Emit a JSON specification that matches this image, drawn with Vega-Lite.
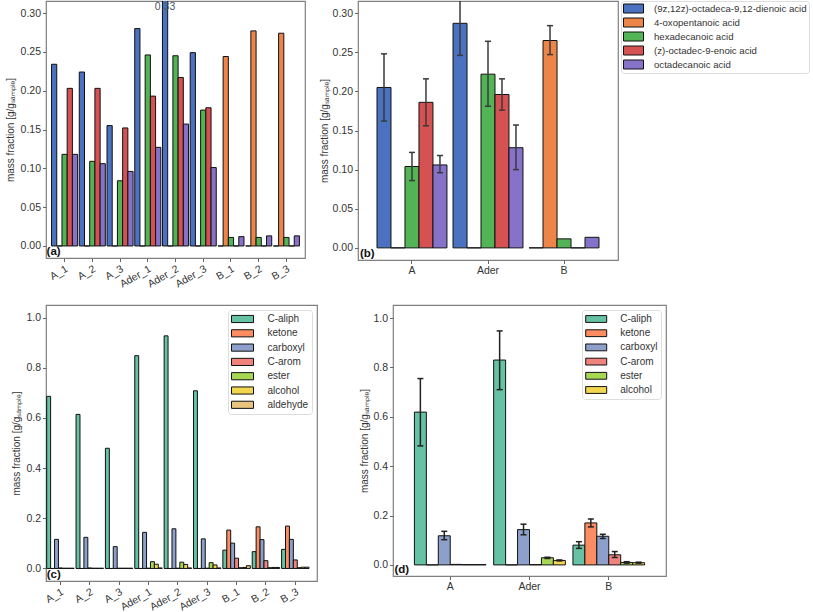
{
  "$schema": "https://vega.github.io/schema/vega-lite/v6.json",
  "padding": {"left": 4, "top": -1, "right": 0, "bottom": 0},
  "background": "white",
  "config": {
    "font": "Liberation Sans",
    "view": {"stroke": "#808080", "strokeWidth": 1.2},
    "axis": {
      "domain": false, "grid": false,
      "labelFont": "Liberation Sans", "labelFontSize": 10.5, "labelColor": "#333333",
      "titleFont": "Liberation Sans", "titleFontSize": 10, "titleFontWeight": "normal", "titleColor": "#333333",
      "tickColor": "#666666", "tickSize": 3.5, "labelPadding": 2, "titlePadding": 3
    },
    "legend": {
      "labelFont": "Liberation Sans", "labelFontSize": 10, "labelColor": "#333333", "labelLimit": 260,
      "strokeColor": "#dddddd", "fillColor": "white", "cornerRadius": 3, "padding": 2,
      "symbolStrokeColor": "#111111", "symbolStrokeWidth": 1, "symbolOpacity": 1,
      "symbolOffset": 5, "labelOffset": 18, "title": null
    }
  },
  "datasets": {
    "fa": [
      {"s": "A_1", "c": "(9z,12z)-octadeca-9,12-dienoic acid", "v": 0.234},
      {"s": "A_1", "c": "4-oxopentanoic acid", "v": 0},
      {"s": "A_1", "c": "hexadecanoic acid", "v": 0.118},
      {"s": "A_1", "c": "(z)-octadec-9-enoic acid", "v": 0.203},
      {"s": "A_1", "c": "octadecanoic acid", "v": 0.118},
      {"s": "A_2", "c": "(9z,12z)-octadeca-9,12-dienoic acid", "v": 0.224},
      {"s": "A_2", "c": "4-oxopentanoic acid", "v": 0},
      {"s": "A_2", "c": "hexadecanoic acid", "v": 0.109},
      {"s": "A_2", "c": "(z)-octadec-9-enoic acid", "v": 0.203},
      {"s": "A_2", "c": "octadecanoic acid", "v": 0.106},
      {"s": "A_3", "c": "(9z,12z)-octadeca-9,12-dienoic acid", "v": 0.155},
      {"s": "A_3", "c": "4-oxopentanoic acid", "v": 0},
      {"s": "A_3", "c": "hexadecanoic acid", "v": 0.084},
      {"s": "A_3", "c": "(z)-octadec-9-enoic acid", "v": 0.152},
      {"s": "A_3", "c": "octadecanoic acid", "v": 0.096},
      {"s": "Ader_1", "c": "(9z,12z)-octadeca-9,12-dienoic acid", "v": 0.280},
      {"s": "Ader_1", "c": "4-oxopentanoic acid", "v": 0},
      {"s": "Ader_1", "c": "hexadecanoic acid", "v": 0.246},
      {"s": "Ader_1", "c": "(z)-octadec-9-enoic acid", "v": 0.193},
      {"s": "Ader_1", "c": "octadecanoic acid", "v": 0.127},
      {"s": "Ader_2", "c": "(9z,12z)-octadeca-9,12-dienoic acid", "v": 0.33},
      {"s": "Ader_2", "c": "4-oxopentanoic acid", "v": 0},
      {"s": "Ader_2", "c": "hexadecanoic acid", "v": 0.245},
      {"s": "Ader_2", "c": "(z)-octadec-9-enoic acid", "v": 0.217},
      {"s": "Ader_2", "c": "octadecanoic acid", "v": 0.157},
      {"s": "Ader_3", "c": "(9z,12z)-octadeca-9,12-dienoic acid", "v": 0.249},
      {"s": "Ader_3", "c": "4-oxopentanoic acid", "v": 0},
      {"s": "Ader_3", "c": "hexadecanoic acid", "v": 0.175},
      {"s": "Ader_3", "c": "(z)-octadec-9-enoic acid", "v": 0.178},
      {"s": "Ader_3", "c": "octadecanoic acid", "v": 0.101},
      {"s": "B_1", "c": "(9z,12z)-octadeca-9,12-dienoic acid", "v": 0},
      {"s": "B_1", "c": "4-oxopentanoic acid", "v": 0.244},
      {"s": "B_1", "c": "hexadecanoic acid", "v": 0.011},
      {"s": "B_1", "c": "(z)-octadec-9-enoic acid", "v": 0},
      {"s": "B_1", "c": "octadecanoic acid", "v": 0.012},
      {"s": "B_2", "c": "(9z,12z)-octadeca-9,12-dienoic acid", "v": 0},
      {"s": "B_2", "c": "4-oxopentanoic acid", "v": 0.277},
      {"s": "B_2", "c": "hexadecanoic acid", "v": 0.011},
      {"s": "B_2", "c": "(z)-octadec-9-enoic acid", "v": 0},
      {"s": "B_2", "c": "octadecanoic acid", "v": 0.013},
      {"s": "B_3", "c": "(9z,12z)-octadeca-9,12-dienoic acid", "v": 0},
      {"s": "B_3", "c": "4-oxopentanoic acid", "v": 0.274},
      {"s": "B_3", "c": "hexadecanoic acid", "v": 0.011},
      {"s": "B_3", "c": "(z)-octadec-9-enoic acid", "v": 0},
      {"s": "B_3", "c": "octadecanoic acid", "v": 0.013}
    ],
    "fam": [
      {"g": "A", "c": "(9z,12z)-octadeca-9,12-dienoic acid", "v": 0.205, "lo": 0.162, "hi": 0.248},
      {"g": "A", "c": "4-oxopentanoic acid", "v": 0, "lo": null, "hi": null},
      {"g": "A", "c": "hexadecanoic acid", "v": 0.104, "lo": 0.086, "hi": 0.122},
      {"g": "A", "c": "(z)-octadec-9-enoic acid", "v": 0.186, "lo": 0.156, "hi": 0.216},
      {"g": "A", "c": "octadecanoic acid", "v": 0.106, "lo": 0.096, "hi": 0.118},
      {"g": "Ader", "c": "(9z,12z)-octadeca-9,12-dienoic acid", "v": 0.287, "lo": 0.246, "hi": 0.328},
      {"g": "Ader", "c": "4-oxopentanoic acid", "v": 0, "lo": null, "hi": null},
      {"g": "Ader", "c": "hexadecanoic acid", "v": 0.222, "lo": 0.181, "hi": 0.264},
      {"g": "Ader", "c": "(z)-octadec-9-enoic acid", "v": 0.196, "lo": 0.176, "hi": 0.216},
      {"g": "Ader", "c": "octadecanoic acid", "v": 0.128, "lo": 0.100, "hi": 0.157},
      {"g": "B", "c": "(9z,12z)-octadeca-9,12-dienoic acid", "v": 0, "lo": null, "hi": null},
      {"g": "B", "c": "4-oxopentanoic acid", "v": 0.265, "lo": 0.247, "hi": 0.284},
      {"g": "B", "c": "hexadecanoic acid", "v": 0.0115, "lo": null, "hi": null},
      {"g": "B", "c": "(z)-octadec-9-enoic acid", "v": 0, "lo": null, "hi": null},
      {"g": "B", "c": "octadecanoic acid", "v": 0.0135, "lo": null, "hi": null}
    ],
    "fg": [
      {"s": "A_1", "c": "C-aliph", "v": 0.686}, {"s": "A_1", "c": "ketone", "v": 0}, {"s": "A_1", "c": "carboxyl", "v": 0.116}, {"s": "A_1", "c": "C-arom", "v": 0.002}, {"s": "A_1", "c": "ester", "v": 0.001}, {"s": "A_1", "c": "alcohol", "v": 0.001}, {"s": "A_1", "c": "aldehyde", "v": 0.001},
      {"s": "A_2", "c": "C-aliph", "v": 0.614}, {"s": "A_2", "c": "ketone", "v": 0}, {"s": "A_2", "c": "carboxyl", "v": 0.124}, {"s": "A_2", "c": "C-arom", "v": 0.002}, {"s": "A_2", "c": "ester", "v": 0.001}, {"s": "A_2", "c": "alcohol", "v": 0.001}, {"s": "A_2", "c": "aldehyde", "v": 0.001},
      {"s": "A_3", "c": "C-aliph", "v": 0.479}, {"s": "A_3", "c": "ketone", "v": 0}, {"s": "A_3", "c": "carboxyl", "v": 0.087}, {"s": "A_3", "c": "C-arom", "v": 0.001}, {"s": "A_3", "c": "ester", "v": 0.001}, {"s": "A_3", "c": "alcohol", "v": 0.001}, {"s": "A_3", "c": "aldehyde", "v": 0.001},
      {"s": "Ader_1", "c": "C-aliph", "v": 0.848}, {"s": "Ader_1", "c": "ketone", "v": 0}, {"s": "Ader_1", "c": "carboxyl", "v": 0.144}, {"s": "Ader_1", "c": "C-arom", "v": 0.001}, {"s": "Ader_1", "c": "ester", "v": 0.027}, {"s": "Ader_1", "c": "alcohol", "v": 0.017}, {"s": "Ader_1", "c": "aldehyde", "v": 0.002},
      {"s": "Ader_2", "c": "C-aliph", "v": 0.927}, {"s": "Ader_2", "c": "ketone", "v": 0}, {"s": "Ader_2", "c": "carboxyl", "v": 0.158}, {"s": "Ader_2", "c": "C-arom", "v": 0.001}, {"s": "Ader_2", "c": "ester", "v": 0.025}, {"s": "Ader_2", "c": "alcohol", "v": 0.016}, {"s": "Ader_2", "c": "aldehyde", "v": 0.002},
      {"s": "Ader_3", "c": "C-aliph", "v": 0.708}, {"s": "Ader_3", "c": "ketone", "v": 0}, {"s": "Ader_3", "c": "carboxyl", "v": 0.118}, {"s": "Ader_3", "c": "C-arom", "v": 0.001}, {"s": "Ader_3", "c": "ester", "v": 0.023}, {"s": "Ader_3", "c": "alcohol", "v": 0.014}, {"s": "Ader_3", "c": "aldehyde", "v": 0.002},
      {"s": "B_1", "c": "C-aliph", "v": 0.073}, {"s": "B_1", "c": "ketone", "v": 0.153}, {"s": "B_1", "c": "carboxyl", "v": 0.101}, {"s": "B_1", "c": "C-arom", "v": 0.041}, {"s": "B_1", "c": "ester", "v": 0.003}, {"s": "B_1", "c": "alcohol", "v": 0.004}, {"s": "B_1", "c": "aldehyde", "v": 0.011},
      {"s": "B_2", "c": "C-aliph", "v": 0.067}, {"s": "B_2", "c": "ketone", "v": 0.166}, {"s": "B_2", "c": "carboxyl", "v": 0.115}, {"s": "B_2", "c": "C-arom", "v": 0.031}, {"s": "B_2", "c": "ester", "v": 0.003}, {"s": "B_2", "c": "alcohol", "v": 0.004}, {"s": "B_2", "c": "aldehyde", "v": 0.004},
      {"s": "B_3", "c": "C-aliph", "v": 0.076}, {"s": "B_3", "c": "ketone", "v": 0.169}, {"s": "B_3", "c": "carboxyl", "v": 0.116}, {"s": "B_3", "c": "C-arom", "v": 0.034}, {"s": "B_3", "c": "ester", "v": 0.003}, {"s": "B_3", "c": "alcohol", "v": 0.005}, {"s": "B_3", "c": "aldehyde", "v": 0.005}
    ],
    "fgm": [
      {"g": "A", "c": "C-aliph", "v": 0.619, "lo": 0.482, "hi": 0.755},
      {"g": "A", "c": "ketone", "v": 0, "lo": null, "hi": null},
      {"g": "A", "c": "carboxyl", "v": 0.118, "lo": 0.102, "hi": 0.136},
      {"g": "A", "c": "C-arom", "v": 0.002, "lo": null, "hi": null},
      {"g": "A", "c": "ester", "v": 0.001, "lo": null, "hi": null},
      {"g": "A", "c": "alcohol", "v": 0.001, "lo": null, "hi": null},
      {"g": "Ader", "c": "C-aliph", "v": 0.830, "lo": 0.710, "hi": 0.948},
      {"g": "Ader", "c": "ketone", "v": 0, "lo": null, "hi": null},
      {"g": "Ader", "c": "carboxyl", "v": 0.143, "lo": 0.122, "hi": 0.165},
      {"g": "Ader", "c": "C-arom", "v": 0.001, "lo": null, "hi": null},
      {"g": "Ader", "c": "ester", "v": 0.029, "lo": 0.026, "hi": 0.031},
      {"g": "Ader", "c": "alcohol", "v": 0.018, "lo": 0.016, "hi": 0.020},
      {"g": "B", "c": "C-aliph", "v": 0.080, "lo": 0.067, "hi": 0.094},
      {"g": "B", "c": "ketone", "v": 0.170, "lo": 0.154, "hi": 0.186},
      {"g": "B", "c": "carboxyl", "v": 0.116, "lo": 0.107, "hi": 0.124},
      {"g": "B", "c": "C-arom", "v": 0.041, "lo": 0.030, "hi": 0.054},
      {"g": "B", "c": "ester", "v": 0.010, "lo": 0.007, "hi": 0.013},
      {"g": "B", "c": "alcohol", "v": 0.009, "lo": 0.007, "hi": 0.011}
    ]
  },
  "resolve": {"scale": {"color": "independent", "x": "independent", "y": "independent", "xOffset": "independent"}, "legend": {"color": "independent"}},
  "spacing": 13,
  "vconcat": [
    {
      "hconcat": [
        {
          "width": 259, "height": 257,
          "layer": [
            {
              "data": {"name": "fa"},
              "mark": {"type": "bar", "stroke": "#111111", "strokeWidth": 1, "clip": true},
              "encoding": {
                "x": {"field": "s", "type": "nominal", "sort": ["A_1","A_2","A_3","Ader_1","Ader_2","Ader_3","B_1","B_2","B_3"],
                      "scale": {"paddingInner": 0.06, "paddingOuter": 0.2},
                      "axis": {"title": null, "labelAngle": -30, "labelAlign": "right", "labelBaseline": "top"}},
                "xOffset": {"field": "c", "type": "nominal", "sort": ["(9z,12z)-octadeca-9,12-dienoic acid","4-oxopentanoic acid","hexadecanoic acid","(z)-octadec-9-enoic acid","octadecanoic acid"],
                            "scale": {"paddingInner": 0, "paddingOuter": 0}},
                "y": {"field": "v", "type": "quantitative", "scale": {"domain": [-0.0155, 0.3155], "nice": false},
                      "axis": {"title": "mass fraction [g/gₛₐₘₚₗₑ]", "titlePadding": 5, "values": [0, 0.05, 0.1, 0.15, 0.2, 0.25, 0.3], "format": ".2f"}},
                "y2": {"datum": 0},
                "color": {"field": "c", "type": "nominal",
                          "scale": {"domain": ["(9z,12z)-octadeca-9,12-dienoic acid","4-oxopentanoic acid","hexadecanoic acid","(z)-octadec-9-enoic acid","octadecanoic acid"],
                                    "range": ["#4a72c0","#ee8548","#52b455","#d65252","#8672c8"]},
                          "legend": null}
              }
            },
            {
              "data": {"name": "fa"},
              "transform": [{"filter": "datum.v > 0.3155"}],
              "mark": {"type": "text", "fontSize": 10.5, "color": "#4a5560", "baseline": "middle"},
              "encoding": {
                "x": {"field": "s", "type": "nominal", "sort": ["A_1","A_2","A_3","Ader_1","Ader_2","Ader_3","B_1","B_2","B_3"]},
                "xOffset": {"field": "c", "type": "nominal", "sort": ["(9z,12z)-octadeca-9,12-dienoic acid","4-oxopentanoic acid","hexadecanoic acid","(z)-octadec-9-enoic acid","octadecanoic acid"]},
                "y": {"datum": 0.308},
                "text": {"field": "v", "type": "quantitative", "format": ".2f"}
              }
            },
            {
              "data": {"values": [{"label": "(a)", "s": "A_1"}]},
              "mark": {"type": "text", "fontSize": 11.5, "fontWeight": "bold", "color": "#111111", "align": "left", "baseline": "bottom", "dx": -5, "dy": -1},
              "encoding": {
                "x": {"field": "s", "type": "nominal", "bandPosition": 0},
                "y": {"datum": -0.0155},
                "text": {"field": "label"}
              }
            }
          ]
        },
        {
          "width": 260, "height": 259,
          "layer": [
            {
              "data": {"name": "fam"},
              "mark": {"type": "bar", "stroke": "#111111", "strokeWidth": 1, "clip": true},
              "encoding": {
                "x": {"field": "g", "type": "nominal", "sort": ["A","Ader","B"],
                      "scale": {"paddingInner": 0.08, "paddingOuter": 0.25},
                      "axis": {"title": null, "labelAngle": 0}},
                "xOffset": {"field": "c", "type": "nominal", "sort": ["(9z,12z)-octadeca-9,12-dienoic acid","4-oxopentanoic acid","hexadecanoic acid","(z)-octadec-9-enoic acid","octadecanoic acid"],
                            "scale": {"paddingInner": 0, "paddingOuter": 0}},
                "y": {"field": "v", "type": "quantitative", "scale": {"domain": [-0.0155, 0.3155], "nice": false},
                      "axis": {"title": "mass fraction [g/gₛₐₘₚₗₑ]", "values": [0, 0.05, 0.1, 0.15, 0.2, 0.25, 0.3], "format": ".2f"}},
                "y2": {"datum": 0},
                "color": {"field": "c", "type": "nominal",
                          "scale": {"domain": ["(9z,12z)-octadeca-9,12-dienoic acid","4-oxopentanoic acid","hexadecanoic acid","(z)-octadec-9-enoic acid","octadecanoic acid"],
                                    "range": ["#4a72c0","#ee8548","#52b455","#d65252","#8672c8"]},
                          "legend": {"orient": "right", "offset": 3, "symbolType": "M-2,-0.9H2V0.9H-2Z", "symbolSize": 100, "rowPadding": 1, "labelFontSize": 9.6, "labelOffset": 15}}
              }
            },
            {
              "data": {"name": "fam"},
              "mark": {"type": "rule", "color": "#3a3a3a", "strokeWidth": 1.5, "clip": true},
              "encoding": {
                "x": {"field": "g", "type": "nominal", "sort": ["A","Ader","B"]},
                "xOffset": {"field": "c", "type": "nominal", "sort": ["(9z,12z)-octadeca-9,12-dienoic acid","4-oxopentanoic acid","hexadecanoic acid","(z)-octadec-9-enoic acid","octadecanoic acid"]},
                "y": {"field": "lo", "type": "quantitative"},
                "y2": {"field": "hi"}
              }
            },
            {
              "data": {"name": "fam"},
              "mark": {"type": "tick", "color": "#3a3a3a", "thickness": 1.5, "size": 6, "clip": true, "opacity": 1},
              "encoding": {
                "x": {"field": "g", "type": "nominal", "sort": ["A","Ader","B"]},
                "xOffset": {"field": "c", "type": "nominal", "sort": ["(9z,12z)-octadeca-9,12-dienoic acid","4-oxopentanoic acid","hexadecanoic acid","(z)-octadec-9-enoic acid","octadecanoic acid"]},
                "y": {"field": "lo", "type": "quantitative"}
              }
            },
            {
              "data": {"name": "fam"},
              "mark": {"type": "tick", "color": "#3a3a3a", "thickness": 1.5, "size": 6, "clip": true, "opacity": 1},
              "encoding": {
                "x": {"field": "g", "type": "nominal", "sort": ["A","Ader","B"]},
                "xOffset": {"field": "c", "type": "nominal", "sort": ["(9z,12z)-octadeca-9,12-dienoic acid","4-oxopentanoic acid","hexadecanoic acid","(z)-octadec-9-enoic acid","octadecanoic acid"]},
                "y": {"field": "hi", "type": "quantitative"}
              }
            },
            {
              "data": {"values": [{"label": "(b)", "g": "A"}]},
              "mark": {"type": "text", "fontSize": 11.5, "fontWeight": "bold", "color": "#111111", "align": "left", "baseline": "bottom", "dx": -17, "dy": -1},
              "encoding": {
                "x": {"field": "g", "type": "nominal", "bandPosition": 0},
                "y": {"datum": -0.0155},
                "text": {"field": "label"}
              }
            }
          ]
        }
      ],
      "spacing": 12,
      "resolve": {"scale": {"color": "independent", "x": "independent", "y": "independent", "xOffset": "independent"}, "legend": {"color": "independent"}}
    },
    {
      "hconcat": [
        {
          "width": 271, "height": 276,
          "layer": [
            {
              "data": {"name": "fg"},
              "mark": {"type": "bar", "stroke": "#111111", "strokeWidth": 1},
              "encoding": {
                "x": {"field": "s", "type": "nominal", "sort": ["A_1","A_2","A_3","Ader_1","Ader_2","Ader_3","B_1","B_2","B_3"],
                      "scale": {"paddingInner": 0.065, "paddingOuter": 0.1475, "align": 0.08},
                      "axis": {"title": null, "labelAngle": -30, "labelAlign": "right", "labelBaseline": "top"}},
                "xOffset": {"field": "c", "type": "nominal", "sort": ["C-aliph","ketone","carboxyl","C-arom","ester","alcohol","aldehyde"],
                            "scale": {"paddingInner": 0, "paddingOuter": 0}},
                "y": {"field": "v", "type": "quantitative", "scale": {"domain": [-0.05, 1.05], "nice": false},
                      "axis": {"title": "mass fraction [g/gₛₐₘₚₗₑ]", "titlePadding": 4, "values": [0, 0.2, 0.4, 0.6, 0.8, 1.0], "format": ".1f"}},
                "y2": {"datum": 0},
                "color": {"field": "c", "type": "nominal",
                          "scale": {"domain": ["C-aliph","ketone","carboxyl","C-arom","ester","alcohol","aldehyde"],
                                    "range": ["#66c2a5","#fc8d62","#8da0cb","#f0837c","#a6d854","#f2d650","#e8c47e"]},
                          "legend": {"orient": "top-right", "offset": 5, "symbolType": "M-2,-0.65H2V0.65H-2Z", "symbolSize": 121, "rowPadding": 2.3, "padding": 3, "symbolOffset": 5.5, "labelOffset": 19}}
              }
            },
            {
              "data": {"values": [{"label": "(c)", "s": "A_1"}]},
              "mark": {"type": "text", "fontSize": 11.5, "fontWeight": "bold", "color": "#111111", "align": "left", "baseline": "bottom", "dx": 0, "dy": -1},
              "encoding": {
                "x": {"field": "s", "type": "nominal", "bandPosition": 0},
                "y": {"datum": -0.05},
                "text": {"field": "label"}
              }
            }
          ]
        },
        {
          "width": 273, "height": 271,
          "layer": [
            {
              "data": {"name": "fgm"},
              "mark": {"type": "bar", "stroke": "#111111", "strokeWidth": 1},
              "encoding": {
                "x": {"field": "g", "type": "nominal", "sort": ["A","Ader","B"],
                      "scale": {"paddingInner": 0.096, "paddingOuter": 0.27},
                      "axis": {"title": null, "labelAngle": 0}},
                "xOffset": {"field": "c", "type": "nominal", "sort": ["C-aliph","ketone","carboxyl","C-arom","ester","alcohol"],
                            "scale": {"paddingInner": 0, "paddingOuter": 0}},
                "y": {"field": "v", "type": "quantitative", "scale": {"domain": [-0.045, 1.053], "nice": false},
                      "axis": {"title": "mass fraction [g/gₛₐₘₚₗₑ]", "values": [0, 0.2, 0.4, 0.6, 0.8, 1.0], "format": ".1f"}},
                "y2": {"datum": 0},
                "color": {"field": "c", "type": "nominal",
                          "scale": {"domain": ["C-aliph","ketone","carboxyl","C-arom","ester","alcohol"],
                                    "range": ["#66c2a5","#fc8d62","#8da0cb","#f0837c","#a6d854","#f2d650"]},
                          "legend": {"orient": "top-right", "offset": 5, "symbolType": "M-2,-0.65H2V0.65H-2Z", "symbolSize": 110, "rowPadding": 2.2, "padding": 3, "symbolOffset": 5.2, "labelOffset": 18}}
              }
            },
            {
              "data": {"name": "fgm"},
              "mark": {"type": "rule", "color": "#222222", "strokeWidth": 1.5},
              "encoding": {
                "x": {"field": "g", "type": "nominal", "sort": ["A","Ader","B"]},
                "xOffset": {"field": "c", "type": "nominal", "sort": ["C-aliph","ketone","carboxyl","C-arom","ester","alcohol"]},
                "y": {"field": "lo", "type": "quantitative"},
                "y2": {"field": "hi"}
              }
            },
            {
              "data": {"name": "fgm"},
              "mark": {"type": "tick", "color": "#222222", "thickness": 1.5, "size": 6, "opacity": 1},
              "encoding": {
                "x": {"field": "g", "type": "nominal", "sort": ["A","Ader","B"]},
                "xOffset": {"field": "c", "type": "nominal", "sort": ["C-aliph","ketone","carboxyl","C-arom","ester","alcohol"]},
                "y": {"field": "lo", "type": "quantitative"}
              }
            },
            {
              "data": {"name": "fgm"},
              "mark": {"type": "tick", "color": "#222222", "thickness": 1.5, "size": 6, "opacity": 1},
              "encoding": {
                "x": {"field": "g", "type": "nominal", "sort": ["A","Ader","B"]},
                "xOffset": {"field": "c", "type": "nominal", "sort": ["C-aliph","ketone","carboxyl","C-arom","ester","alcohol"]},
                "y": {"field": "hi", "type": "quantitative"}
              }
            },
            {
              "data": {"values": [{"label": "(d)", "g": "A"}]},
              "mark": {"type": "text", "fontSize": 11.5, "fontWeight": "bold", "color": "#111111", "align": "left", "baseline": "bottom", "dx": -20, "dy": -1},
              "encoding": {
                "x": {"field": "g", "type": "nominal", "bandPosition": 0},
                "y": {"datum": -0.045},
                "text": {"field": "label"}
              }
            }
          ]
        }
      ],
      "spacing": 41,
      "resolve": {"scale": {"color": "independent", "x": "independent", "y": "independent", "xOffset": "independent"}, "legend": {"color": "independent"}}
    }
  ]
}
